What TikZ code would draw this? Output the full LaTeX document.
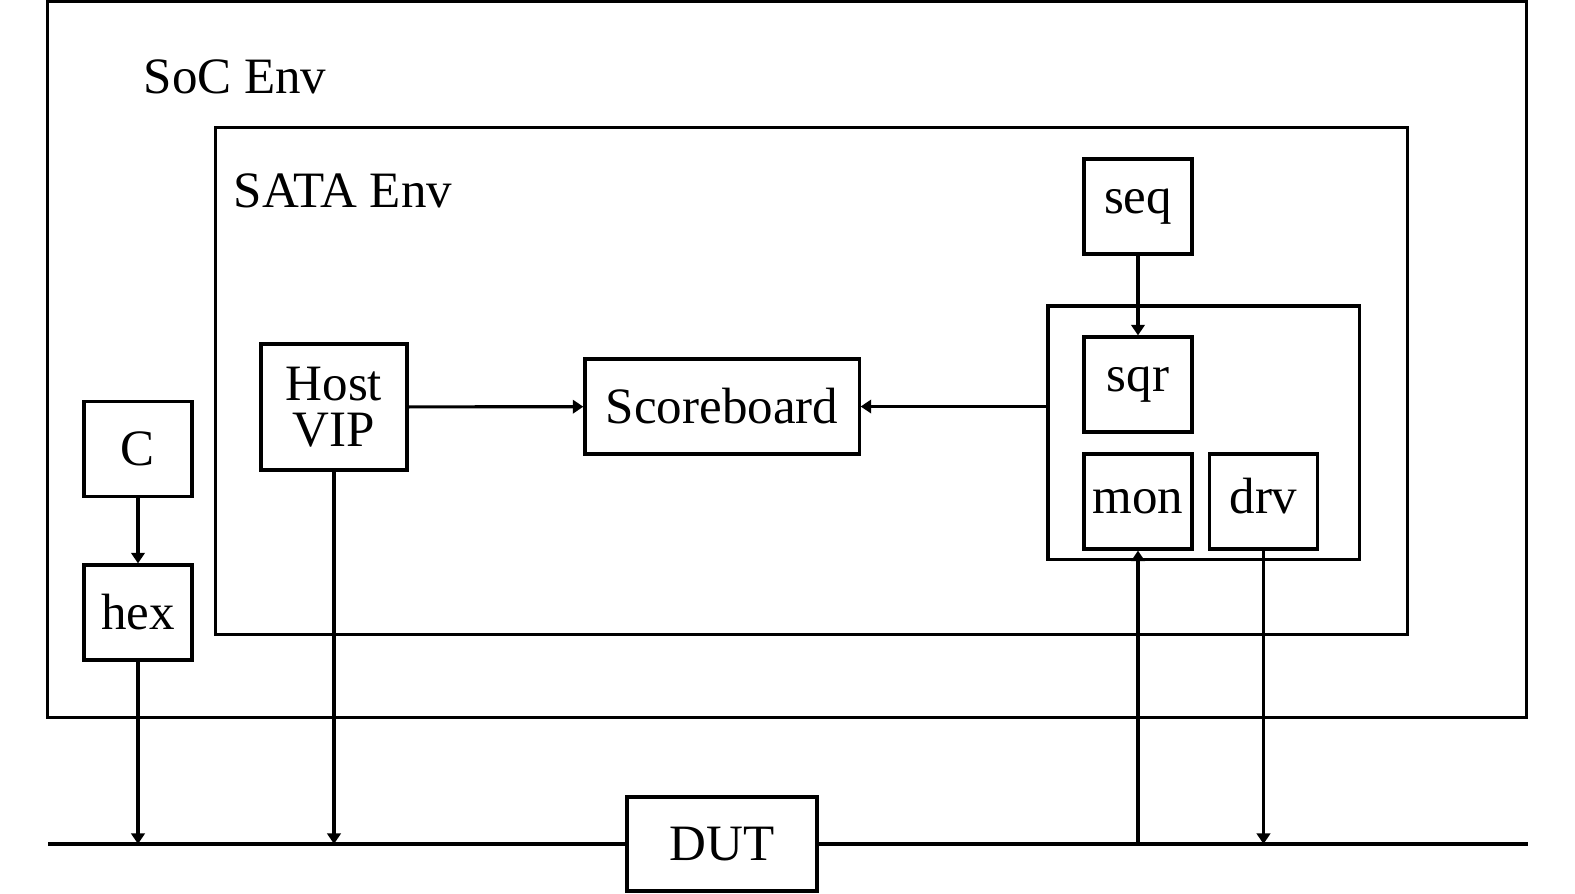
\documentclass[tikz,border=0pt]{standalone}
\usepackage{fontspec}
\setmainfont{Liberation Serif}
\usetikzlibrary{arrows.meta}
\tikzset{
  blk/.style={
    draw,
    line width=0.9pt,
    fill=white,
    minimum width=1.08cm,
    minimum height=0.95cm,
    inner sep=1pt,
    align=center,
    font=\fontsize{14.5}{13}\selectfont
  },
  frame/.style={
    draw,
    line width=0.9pt,
    inner sep=0pt
  },
  envlabel/.style={
    anchor=base west,
    inner sep=0pt,
    font=\fontsize{14.5}{17}\selectfont
  },
  wire/.style={line width=0.9pt},
  sig/.style={wire,-{Triangle[length=3pt,width=3.8pt]}}
}

\begin{document}
\begin{tikzpicture}[x=0.01cm,y=-0.01cm]
  \useasboundingbox (0,0) rectangle (1575,893);

  \node[frame,minimum width=14.78cm,minimum height=7.15cm] (soc) at (787,359.5) {};
  \node[envlabel] (soclbl) at (143,93) {SoC Env};
  \node[frame,minimum width=11.91cm,minimum height=5.06cm] (sata) at (811.5,381) {};
  \node[envlabel] (satalbl) at (233,207) {SATA Env};
  \node[frame,minimum width=3.11cm,minimum height=2.53cm] (agent) at (1203.5,432.5) {};

  \node[blk] (seq) at (1138,206.5) {seq};
  \node[blk] (sqr) at (1138,384.5) {sqr};
  \node[blk] (mon) at (1138,501.5) {mon};
  \node[blk,text height=6.6pt,text depth=0pt] (drv) at (1263.5,501.5) {drv};
  \node[blk,minimum width=1.46cm,minimum height=1.26cm] (host) at (334,407) {Host\\VIP};
  \node[blk,minimum width=2.74cm] (sb) at (722,406.5) {Scoreboard};
  \node[blk] (c) at (138,449) {C};
  \node[blk] (hex) at (138,612.5) {hex};
  \node[blk,minimum width=1.9cm,minimum height=0.94cm] (dut) at (722,844) {DUT};

  \coordinate (busL) at (48,844);
  \coordinate (busR) at (1528,844);
  \draw[wire] (busL) -- (dut.west);
  \draw[wire] (dut.east) -- (busR);

  \draw[sig] (seq) -- (sqr);
  \draw[sig] (host) -- (sb);
  \draw[sig] (agent.west |- sb.east) -- (sb.east);
  \draw[sig] (c) -- (hex);
  \draw[sig] (hex) -- (hex |- busL);
  \draw[sig] (host) -- (host |- busL);
  \draw[sig] (mon |- busL) -- (mon.south);
  \draw[sig] (drv) -- (drv |- busL);
\end{tikzpicture}
\end{document}
